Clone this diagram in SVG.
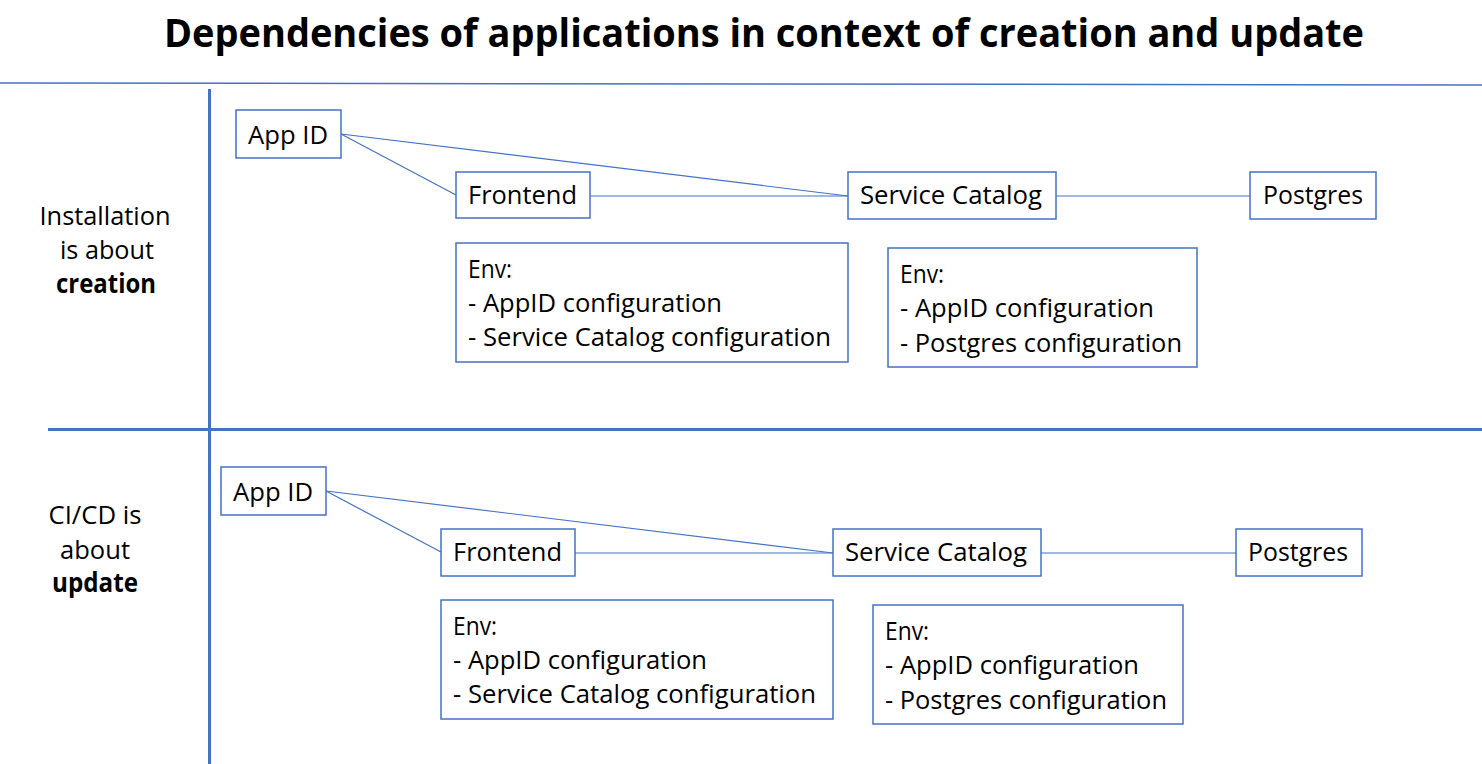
<svg xmlns="http://www.w3.org/2000/svg" width="1482" height="764" viewBox="0 0 1482 764">
<style>
.box{fill:#ffffff;stroke:#4472c4;stroke-width:1.5}
.t{font-family:"Open Sans","Liberation Sans",sans-serif;font-size:26px;fill:#000}
.b{font-weight:bold}
.title{font-size:40px}
.c{stroke:#4472c4;stroke-width:1.2;fill:none}
.sep{stroke:#4472c4;stroke-width:3;fill:none}
</style>
<rect width="1482" height="764" fill="#ffffff"/>
<text class="t b title" x="764" y="47" text-anchor="middle" textLength="1200" lengthAdjust="spacingAndGlyphs">Dependencies of applications in context of creation and update</text>
<g id="separators">
<line x1="0" y1="83" x2="1482" y2="85" stroke="#4472c4" stroke-width="1.5"/>
<line class="sep" x1="209.5" y1="89" x2="209.5" y2="764"/>
<line class="sep" x1="48" y1="429.5" x2="1482" y2="429.5"/>
</g>
<g id="label-install">
<text class="t" x="105" y="225" text-anchor="middle" textLength="131" lengthAdjust="spacingAndGlyphs">Installation</text>
<text class="t" x="107" y="259" text-anchor="middle" textLength="94" lengthAdjust="spacingAndGlyphs">is about</text>
<text class="t b" x="106" y="293" text-anchor="middle" textLength="100" lengthAdjust="spacingAndGlyphs">creation</text>
</g>
<g id="label-cicd">
<text class="t" x="95" y="524" text-anchor="middle" textLength="93" lengthAdjust="spacingAndGlyphs">CI/CD is</text>
<text class="t" x="95" y="559" text-anchor="middle" textLength="70" lengthAdjust="spacingAndGlyphs">about</text>
<text class="t b" x="95" y="592" text-anchor="middle" textLength="86" lengthAdjust="spacingAndGlyphs">update</text>
</g>
<g id="connectors">
<line class="c" x1="341" y1="134" x2="456" y2="195"/>
<line class="c" x1="341" y1="134" x2="848" y2="196"/>
<line class="c" x1="590" y1="196" x2="848" y2="196"/>
<line class="c" x1="1056" y1="196" x2="1250" y2="196"/>
<line class="c" x1="326" y1="491" x2="441" y2="552"/>
<line class="c" x1="326" y1="491" x2="833" y2="553"/>
<line class="c" x1="575" y1="553" x2="833" y2="553"/>
<line class="c" x1="1041" y1="553" x2="1236" y2="553"/>
</g>
<g id="appid-1"><rect class="box" x="236" y="110" width="105" height="48"/><text class="t" x="248" y="144" textLength="80" lengthAdjust="spacingAndGlyphs">App ID</text></g>
<g id="frontend-1"><rect class="box" x="456" y="172" width="134" height="46"/><text class="t" x="468" y="204" textLength="109" lengthAdjust="spacingAndGlyphs">Frontend</text></g>
<g id="servicecatalog-1"><rect class="box" x="848" y="172" width="208" height="47"/><text class="t" x="860" y="204" textLength="182" lengthAdjust="spacingAndGlyphs">Service Catalog</text></g>
<g id="postgres-1"><rect class="box" x="1250" y="172" width="126" height="47"/><text class="t" x="1263" y="204" textLength="100" lengthAdjust="spacingAndGlyphs">Postgres</text></g>
<g id="env-frontend-1"><rect class="box" x="456" y="243" width="392" height="119"/>
<text class="t" x="468" y="278" textLength="44" lengthAdjust="spacingAndGlyphs">Env:</text>
<text class="t" x="468" y="312" textLength="254" lengthAdjust="spacingAndGlyphs">- AppID configuration</text>
<text class="t" x="468" y="346" textLength="363" lengthAdjust="spacingAndGlyphs">- Service Catalog configuration</text></g>
<g id="env-sc-1"><rect class="box" x="888" y="248" width="309" height="119"/>
<text class="t" x="900" y="283" textLength="44" lengthAdjust="spacingAndGlyphs">Env:</text>
<text class="t" x="900" y="317" textLength="254" lengthAdjust="spacingAndGlyphs">- AppID configuration</text>
<text class="t" x="900" y="352" textLength="282" lengthAdjust="spacingAndGlyphs">- Postgres configuration</text></g>
<g id="appid-2"><rect class="box" x="221" y="467" width="105" height="48"/><text class="t" x="233" y="501" textLength="80" lengthAdjust="spacingAndGlyphs">App ID</text></g>
<g id="frontend-2"><rect class="box" x="441" y="529" width="134" height="47"/><text class="t" x="453" y="561" textLength="109" lengthAdjust="spacingAndGlyphs">Frontend</text></g>
<g id="servicecatalog-2"><rect class="box" x="833" y="529" width="208" height="47"/><text class="t" x="845" y="561" textLength="182" lengthAdjust="spacingAndGlyphs">Service Catalog</text></g>
<g id="postgres-2"><rect class="box" x="1236" y="529" width="126" height="47"/><text class="t" x="1248" y="561" textLength="100" lengthAdjust="spacingAndGlyphs">Postgres</text></g>
<g id="env-frontend-2"><rect class="box" x="441" y="600" width="392" height="119"/>
<text class="t" x="453" y="635" textLength="44" lengthAdjust="spacingAndGlyphs">Env:</text>
<text class="t" x="453" y="669" textLength="254" lengthAdjust="spacingAndGlyphs">- AppID configuration</text>
<text class="t" x="453" y="703" textLength="363" lengthAdjust="spacingAndGlyphs">- Service Catalog configuration</text></g>
<g id="env-sc-2"><rect class="box" x="873" y="605" width="310" height="119"/>
<text class="t" x="885" y="640" textLength="44" lengthAdjust="spacingAndGlyphs">Env:</text>
<text class="t" x="885" y="674" textLength="254" lengthAdjust="spacingAndGlyphs">- AppID configuration</text>
<text class="t" x="885" y="709" textLength="282" lengthAdjust="spacingAndGlyphs">- Postgres configuration</text></g>
</svg>
